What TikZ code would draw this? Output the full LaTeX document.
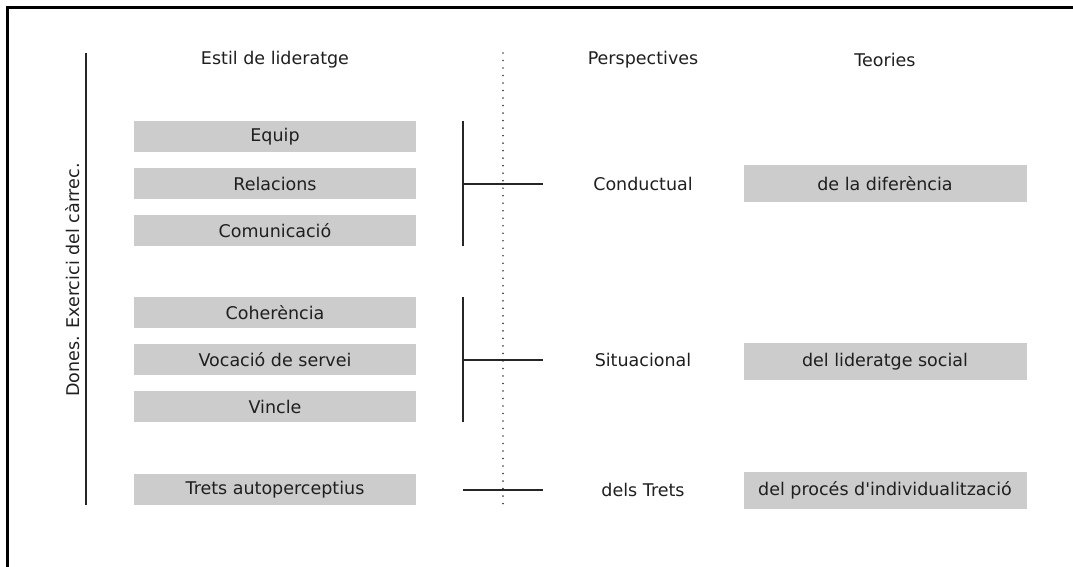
\documentclass[tikz,border=0pt]{standalone}
\usepackage{fontspec}
\setmainfont{DejaVu Sans}
% same family without the TeX input mapping, for a straight apostrophe
\newfontfamily\plainsans{DejaVu Sans}
\begin{document}
\begin{tikzpicture}[x=1pt,y=-1pt,
  every node/.style={font=\plainsans\fontsize{17.5}{21}\selectfont, text=black!88},
  stylebox/.style={fill=black!20, minimum width=282pt, minimum height=31pt, inner sep=0pt},
  theorybox/.style={fill=black!20, minimum width=283pt, minimum height=37pt, inner sep=0pt},
  heading/.style={inner sep=0pt},
  rule/.style={line width=1.5pt, black!85},
  guide/.style={line width=1.7pt, black!75, dash pattern=on 0.01pt off 7.5pt, line cap=round}]
\useasboundingbox (0,0) rectangle (1073,567);
% frame
\draw[line width=2.6pt] (7.5,567) -- (7.5,7.5) -- (1073,7.5);

% column headings
\node[heading] (hstyle) at (275,60) {Estil de lideratge};
\node[heading] (hpersp) at (643,60) {Perspectives};
\node[heading] (hteor) at (885,60) {Teories};

% side label
\node[heading, rotate=90] (side) at (73,280) {Dones. Exercici del càrrec.};
\coordinate (sidetop) at (86,53);
\coordinate (sidebot) at (86,505);
\draw[rule] (sidetop) -- (sidebot);

% dotted separator
\coordinate (septop) at (503,53);
\coordinate (sepbot) at (503,505);
\draw[guide] (septop) -- (sepbot);

% leadership style boxes
\node[stylebox] (equip) at (275,136.5) {Equip};
\node[stylebox] (relac) at (275,183.5) {Relacions};
\node[stylebox] (comun) at (275,230.5) {Comunicació};
\node[stylebox] (coher) at (275,312.5) {Coherència};
\node[stylebox] (vocac) at (275,359.5) {Vocació de servei};
\node[stylebox] (vincl) at (275,406.5) {Vincle};
\node[stylebox] (trets) at (275,489.5) {Trets autoperceptius};

% perspectives
\node[heading] (cond) at (643,184) {Conductual};
\node[heading] (situ) at (643,360) {Situacional};
\node[heading] (dtrets) at (643,490) {dels Trets};

% theories
\node[theorybox] (tdif) at (885,183.5) {de la diferència};
\node[theorybox] (tsoc) at (885,361.5) {del lideratge social};
\node[theorybox] (tind) at (885,490.5) {del procés d'individualització};

% brackets joining styles to perspectives
\coordinate (b1top) at (463,121);
\coordinate (b1bot) at (463,246);
\coordinate (b1mid) at (463,184);
\coordinate (b1end) at (543,184);
\draw[rule] (b1top) -- (b1bot);
\draw[rule] (b1mid) -- (b1end);

\coordinate (b2top) at (463,297);
\coordinate (b2bot) at (463,422);
\coordinate (b2mid) at (463,360);
\coordinate (b2end) at (543,360);
\draw[rule] (b2top) -- (b2bot);
\draw[rule] (b2mid) -- (b2end);

\coordinate (b3mid) at (463,490);
\coordinate (b3end) at (543,490);
\draw[rule] (b3mid) -- (b3end);
\end{tikzpicture}
\end{document}
